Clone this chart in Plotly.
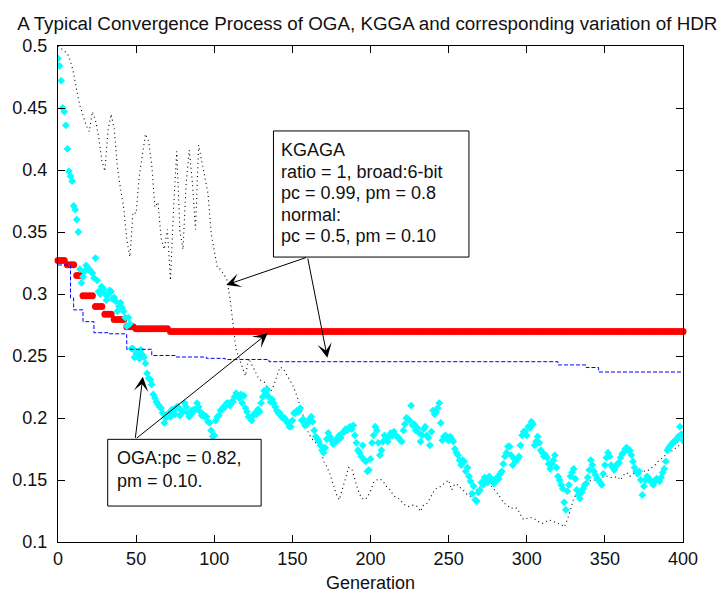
import plotly.graph_objects as go

# ---------------- data ----------------
generations = list(range(0, 401))          # every generation (0..400)
gen_even = list(range(0, 401, 2))           # every second generation

# OGA: population best fitness per generation (cyan diamonds)
oga = [
    0.490, 0.484, 0.472, 0.450, 0.447, 0.436, 0.417, 0.399, 0.395, 0.391,
    0.371, 0.368, 0.360, 0.350, 0.320, 0.309, 0.314, 0.318, 0.323, 0.321,
    0.320, 0.318, 0.317, 0.313, 0.329, 0.311, 0.302, 0.300, 0.306, 0.304,
    0.300, 0.295, 0.299, 0.303, 0.302, 0.296, 0.297, 0.294, 0.286, 0.290,
    0.293, 0.289, 0.286, 0.281, 0.274, 0.281, 0.276, 0.256, 0.256, 0.249,
    0.252, 0.252, 0.248, 0.255, 0.251, 0.249, 0.244, 0.236, 0.232, 0.231,
    0.227, 0.219, 0.216, 0.213, 0.211, 0.209, 0.208, 0.204, 0.196, 0.200,
    0.203, 0.204, 0.201, 0.207, 0.206, 0.203, 0.209, 0.209, 0.202, 0.206,
    0.205, 0.212, 0.209, 0.204, 0.201, 0.206, 0.204, 0.207, 0.207, 0.212,
    0.209, 0.205, 0.202, 0.203, 0.201, 0.201, 0.197, 0.196, 0.190, 0.185,
    0.186, 0.198, 0.201, 0.202, 0.206, 0.207, 0.209, 0.209, 0.212, 0.212,
    0.210, 0.213, 0.213, 0.217, 0.220, 0.218, 0.216, 0.219, 0.212, 0.218,
    0.208, 0.205, 0.201, 0.200, 0.198, 0.202, 0.204, 0.203, 0.207, 0.205,
    0.212, 0.217, 0.222, 0.220, 0.223, 0.217, 0.213, 0.215, 0.212, 0.209,
    0.206, 0.204, 0.204, 0.201, 0.200, 0.200, 0.198, 0.196, 0.193, 0.193,
    0.198, 0.204, 0.204, 0.206, 0.205, 0.208, 0.198, 0.199, 0.194, 0.195,
    0.196, 0.199, 0.201, 0.197, 0.190, 0.185, 0.183, 0.181, 0.178, 0.174,
    0.172, 0.176, 0.183, 0.188, 0.185, 0.182, 0.179, 0.180, 0.183, 0.182,
    0.186, 0.184, 0.188, 0.189, 0.191, 0.190, 0.192, 0.193, 0.191, 0.194,
    0.186, 0.180, 0.174, 0.172, 0.169, 0.178, 0.166, 0.165, 0.157, 0.158,
    0.167, 0.180, 0.186, 0.193, 0.190, 0.180, 0.170, 0.174, 0.181, 0.186,
    0.184, 0.181, 0.185, 0.188, 0.186, 0.189, 0.186, 0.185, 0.184, 0.182,
    0.181, 0.190, 0.195, 0.200, 0.199, 0.198, 0.210, 0.194, 0.195, 0.190,
    0.192, 0.188, 0.181, 0.186, 0.191, 0.193, 0.186, 0.184, 0.178, 0.189,
    0.206, 0.203, 0.205, 0.208, 0.212, 0.196, 0.182, 0.185, 0.186, 0.183,
    0.182, 0.185, 0.183, 0.181, 0.175, 0.172, 0.170, 0.166, 0.162, 0.166,
    0.165, 0.157, 0.160, 0.153, 0.149, 0.139, 0.145, 0.134, 0.133, 0.140,
    0.142, 0.148, 0.146, 0.152, 0.150, 0.148, 0.153, 0.151, 0.150, 0.147,
    0.149, 0.152, 0.151, 0.155, 0.157, 0.163, 0.169, 0.172, 0.177, 0.177,
    0.170, 0.162, 0.167, 0.165, 0.167, 0.169, 0.178, 0.186, 0.189, 0.189,
    0.186, 0.193, 0.192, 0.197, 0.195, 0.178, 0.181, 0.185, 0.180, 0.174,
    0.172, 0.169, 0.170, 0.168, 0.163, 0.159, 0.163, 0.166, 0.170, 0.160,
    0.153, 0.150, 0.146, 0.143, 0.132, 0.126, 0.141, 0.146, 0.153, 0.156,
    0.159, 0.151, 0.142, 0.138, 0.135, 0.140, 0.143, 0.146, 0.147, 0.152,
    0.158, 0.166, 0.162, 0.157, 0.154, 0.151, 0.150, 0.148, 0.146, 0.155,
    0.162, 0.168, 0.172, 0.169, 0.162, 0.160, 0.158, 0.161, 0.163, 0.164,
    0.168, 0.171, 0.172, 0.175, 0.176, 0.174, 0.174, 0.170, 0.165, 0.160,
    0.157, 0.155, 0.157, 0.150, 0.138, 0.145, 0.150, 0.153, 0.151, 0.150,
    0.148, 0.146, 0.149, 0.151, 0.150, 0.149, 0.152, 0.156, 0.159, 0.165,
    0.174, 0.176, 0.178, 0.179, 0.181, 0.181, 0.183, 0.185, 0.193, 0.187,
    0.182,
]

# KGGA: best fitness every second generation (red dots)
kgga = (
    [0.3270] * 3 + [0.3235] * 3 + [0.3150] * 2 + [0.2985] * 4 +
    [0.2900] * 3 + [0.2837] * 3 + [0.2795] * 4 + [0.2735] * 3 +
    [0.2720] * 11 + [0.2698] * 165
)

# HDR variation, every second generation (black dotted line)
hdr = [
    0.500, 0.498, 0.496, 0.494, 0.488, 0.478, 0.464, 0.452, 0.444, 0.436,
    0.431, 0.447, 0.440, 0.427, 0.408, 0.399, 0.432, 0.445, 0.433, 0.402,
    0.385, 0.370, 0.344, 0.330, 0.366, 0.365, 0.395, 0.412, 0.429, 0.423,
    0.404, 0.370, 0.374, 0.345, 0.336, 0.352, 0.311, 0.370, 0.415, 0.351,
    0.336, 0.389, 0.416, 0.390, 0.352, 0.420, 0.407, 0.396, 0.381, 0.349,
    0.335, 0.321, 0.320, 0.316, 0.312, 0.297, 0.278, 0.255, 0.248, 0.240,
    0.234, 0.248, 0.243, 0.237, 0.233, 0.230, 0.229, 0.224, 0.221, 0.226,
    0.234, 0.241, 0.240, 0.236, 0.232, 0.227, 0.221, 0.214, 0.206, 0.197,
    0.189, 0.184, 0.181, 0.179, 0.176, 0.165, 0.161, 0.155, 0.146, 0.139,
    0.134, 0.143, 0.153, 0.160, 0.159, 0.150, 0.142, 0.136, 0.134, 0.136,
    0.141, 0.148, 0.150, 0.151, 0.149, 0.145, 0.143, 0.139, 0.136, 0.135,
    0.1325, 0.130, 0.1285, 0.129, 0.130, 0.1285, 0.1245, 0.130, 0.131, 0.135,
    0.140, 0.143, 0.144, 0.146, 0.148, 0.150, 0.142, 0.147, 0.146, 0.143,
    0.141, 0.138, 0.137, 0.139, 0.142, 0.144, 0.146, 0.147, 0.146, 0.144,
    0.141, 0.138, 0.134, 0.131, 0.129, 0.127, 0.128, 0.127, 0.122, 0.118,
    0.119, 0.120, 0.119, 0.118, 0.116, 0.115, 0.116, 0.118, 0.117, 0.116,
    0.115, 0.114, 0.112, 0.118, 0.126, 0.135, 0.139, 0.142, 0.144, 0.147,
    0.149, 0.150, 0.150, 0.151, 0.152, 0.153, 0.153, 0.152, 0.152, 0.153,
    0.150, 0.154, 0.156, 0.153, 0.155, 0.158, 0.157, 0.156, 0.158, 0.158,
    0.160, 0.162, 0.165, 0.167, 0.169, 0.172, 0.173, 0.174, 0.177, 0.178,
    0.180,
]

# KGAGA: stepwise best value (blue dashed), generation where each level starts
kgaga_gen = [0, 8, 10, 16, 23, 32, 44, 60, 75, 95, 107, 135, 320, 338, 346, 400]
kgaga_val = [0.3234, 0.2968, 0.2872, 0.2777, 0.2688, 0.2679, 0.2554, 0.2504,
             0.2492, 0.2481, 0.2472, 0.2454, 0.2428, 0.2407, 0.2371, 0.2371]

x_ticks = [0, 50, 100, 150, 200, 250, 300, 350, 400]
y_ticks = [0.1, 0.15, 0.2, 0.25, 0.3, 0.35, 0.4, 0.45, 0.5]
y_tick_text = ["0.1", "0.15", "0.2", "0.25", "0.3", "0.35", "0.4", "0.45", "0.5"]

title_text = "A Typical Convergence Process of OGA, KGGA and corresponding variation of HDR"
kgaga_note = ["KGAGA", "ratio = 1, broad:6-bit", "pc = 0.99, pm = 0.8",
              "normal:", "pc = 0.5, pm = 0.10"]
oga_note = ["OGA:pc = 0.82,", "pm = 0.10."]

# ---------------- figure ----------------
FONT = "Arial, Liberation Sans, sans-serif"
W, H = 723, 592
L, R, T, B = 54, 40, 46, 50

fig = go.Figure()

fig.add_trace(go.Scatter(
    x=gen_even, y=hdr, mode="lines",
    line=dict(color="#000000", width=1.1, dash="1px,3.4px"),
    hoverinfo="skip", showlegend=False))

fig.add_trace(go.Scatter(
    x=gen_even, y=kgga, mode="markers",
    marker=dict(symbol="circle", size=7, color="#ff0000"),
    cliponaxis=False, showlegend=False))

fig.add_trace(go.Scatter(
    x=generations, y=oga, mode="markers",
    marker=dict(symbol="diamond", size=6, color="#00ffff"),
    showlegend=False))

fig.add_trace(go.Scatter(
    x=kgaga_gen, y=kgaga_val, mode="lines", line_shape="hv",
    line=dict(color="#0000ff", width=1, dash="4px,2px"),
    showlegend=False))

# text boxes
shapes = [
    dict(type="rect", xref="x", yref="y", x0=137.9, x1=263.0, y0=0.3298, y1=0.4315,
         line=dict(color="#000000", width=1), fillcolor="white", layer="above"),
    dict(type="rect", xref="x", yref="y", x0=31.8, x1=130.0, y0=0.1290, y1=0.1828,
         line=dict(color="#000000", width=1), fillcolor="white", layer="above"),
]

annotations = []
for txt, yy in zip(kgaga_note, [0.4161, 0.3986, 0.3813, 0.3640, 0.3466]):
    annotations.append(dict(x=141.5, y=yy, xref="x", yref="y", text=txt,
                            showarrow=False, xanchor="left", yanchor="middle",
                            font=dict(family=FONT, size=18, color="#111111")))
for txt, yy in zip(oga_note, [0.1680, 0.1492]):
    annotations.append(dict(x=36.5, y=yy, xref="x", yref="y", text=txt,
                            showarrow=False, xanchor="left", yanchor="middle",
                            font=dict(family=FONT, size=18, color="#111111")))

# arrows: (tip x, tip y, tail x, tail y)
arrows = [
    (107.7, 0.3073, 159.7, 0.3298),
    (172.4, 0.2486, 159.7, 0.3298),
    (54.3, 0.2333, 49.4, 0.1828),
    (134.2, 0.2683, 49.4, 0.1828),
]
for tx, ty, sx, sy in arrows:
    annotations.append(dict(x=tx, y=ty, ax=sx, ay=sy, xref="x", yref="y",
                            axref="x", ayref="y", text="", showarrow=True,
                            arrowhead=3, arrowsize=2.4, arrowwidth=1,
                            arrowcolor="#000000", standoff=0, startstandoff=0))

annotations.append(dict(x=0.5, y=-41 / 496, xref="paper", yref="paper",
                        text="Generation", showarrow=False,
                        xanchor="center", yanchor="middle",
                        font=dict(family=FONT, size=18, color="#111111")))

fig.update_layout(
    width=W, height=H,
    margin=dict(l=L, r=R, t=T, b=B, pad=0),
    paper_bgcolor="white", plot_bgcolor="white",
    font=dict(family=FONT, size=18, color="#111111"),
    title=dict(text=title_text, x=0.495, xref="paper", xanchor="center",
               y=1 - 23 / H, yref="container", yanchor="middle",
               font=dict(family=FONT, size=18.8, color="#111111")),
    shapes=shapes,
    annotations=annotations,
    showlegend=False,
)

fig.update_xaxes(range=[0, 400], tickvals=x_ticks, ticks="inside", ticklen=7,
                 tickcolor="#000000", showline=True, linecolor="#000000",
                 linewidth=1, mirror="ticks", showgrid=False, zeroline=False,
                 ticklabelstandoff=0, tickfont=dict(family=FONT, size=18))
fig.update_yaxes(range=[0.1, 0.5], tickvals=y_ticks, ticktext=y_tick_text,
                 ticks="inside", ticklen=7, tickcolor="#000000", showline=True,
                 linecolor="#000000", linewidth=1, mirror="ticks",
                 showgrid=False, zeroline=False, ticklabelstandoff=6,
                 tickfont=dict(family=FONT, size=18))

fig.write_html("out.html")
